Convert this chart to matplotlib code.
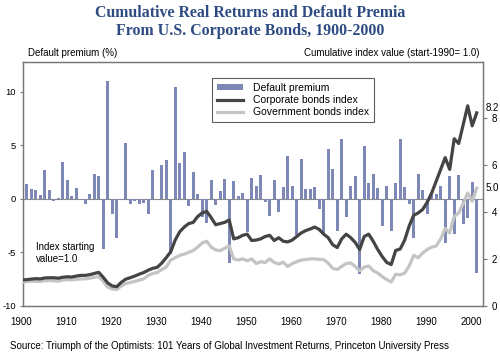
import matplotlib
matplotlib.use("Agg")
import matplotlib.pyplot as plt
from matplotlib.transforms import ScaledTranslation
from matplotlib.patches import Patch
from matplotlib.lines import Line2D

plt.rcParams["font.family"] = ["Liberation Sans", "DejaVu Sans"]

BAR_C = "#7d88b6"
CORP_C = "#444444"
GOV_C = "#c4c4c4"
TITLE_C = "#2d4b82"
FRAME_C = "#777777"

# default premium (%) by year, 1900-2000
years = list(range(1900, 2001))
premium = [
    1.4, 0.9, 0.8, 0.35, 2.7, 0.85, -0.2, 0.1, 3.5, 1.8,
    0.3, 1.05, 0.0, -0.45, 0.5, 2.3, 2.15, -4.7, 11.0, -1.4,
    -3.6, -0.1, 5.2, -0.45, -0.15, -0.5, -0.4, -1.4, 2.7, 0.0,
    3.15, 3.6, -5.1, 10.5, 3.4, 4.4, -0.7, 2.5, 0.5, -1.7,
    -2.2, 1.8, -0.6, 0.7, 1.9, -6.0, 1.7, 0.3, 0.6, -3.1,
    2.0, 1.25, 2.25, -0.25, -1.55, 1.8, -1.2, 1.15, 4.05, 1.2,
    -3.4, 3.75, 0.95, 0.9, 1.15, -0.9, -3.2, 4.65, 2.8, -3.0,
    5.6, -1.7, 1.25, 2.15, -7.05, 4.95, 1.5, 2.35, 1.05, -2.5,
    1.2, -3.0, 1.45, 5.6, 1.1, -0.45, -3.6, 2.35, 0.85, -1.4,
    0.5, 0.45, 1.2, -4.1, 2.1, -3.3, 2.25, -2.35, -1.8, 1.55,
    -6.9,
]

# cumulative real index values, start-1900 (end 1899) = 1.0
index_years = list(range(1899, 2001))
corporate = [
    1.1,
    1.12, 1.14, 1.16, 1.15, 1.19, 1.2, 1.2, 1.18, 1.22, 1.24,
    1.23, 1.27, 1.3, 1.3, 1.33, 1.38, 1.43, 1.22, 0.98, 0.85,
    0.82, 1.0, 1.14, 1.2, 1.27, 1.35, 1.42, 1.52, 1.6, 1.64,
    1.82, 2.05, 2.3, 2.8, 3.15, 3.35, 3.5, 3.55, 3.8, 3.95,
    4.02, 3.75, 3.45, 3.5, 3.55, 3.65, 2.85, 2.9, 3.0, 3.05,
    2.78, 2.8, 2.85, 2.95, 3.0, 2.78, 2.9, 2.75, 2.72, 2.8,
    2.95, 3.1, 3.2, 3.27, 3.35, 3.25, 3.05, 2.9, 2.6, 2.48,
    2.85, 3.05, 2.9, 2.7, 2.4, 2.95, 3.05, 2.75, 2.4, 2.1,
    1.85, 1.76, 2.36, 2.42, 2.8, 3.4, 3.85, 3.95, 4.1, 4.4,
    4.8, 5.3, 5.8, 6.3, 5.8, 7.1, 6.9, 7.7, 8.5, 7.65,
    8.2,
]
government = [
    1.02,
    1.03, 1.05, 1.05, 1.04, 1.07, 1.08, 1.07, 1.05, 1.1, 1.12,
    1.11, 1.13, 1.15, 1.15, 1.18, 1.22, 1.25, 1.05, 0.8, 0.72,
    0.7, 0.85, 0.95, 1.0, 1.04, 1.1, 1.15, 1.3, 1.38, 1.42,
    1.55, 1.65, 1.95, 2.05, 2.15, 2.2, 2.28, 2.35, 2.5, 2.68,
    2.75, 2.5, 2.38, 2.35, 2.45, 2.55, 2.0, 1.95, 2.0, 1.92,
    2.0, 1.8, 1.88, 1.85, 2.0, 1.85, 1.78, 1.86, 1.68, 1.8,
    1.88, 1.95, 1.97, 2.0, 2.0, 1.98, 1.97, 1.82, 1.6, 1.55,
    1.68, 1.8, 1.83, 1.68, 1.5, 1.65, 1.7, 1.5, 1.4, 1.25,
    1.12, 1.02, 1.35, 1.32, 1.4, 1.7, 2.15, 2.05, 2.25, 2.4,
    2.5, 2.55, 2.85, 3.3, 3.1, 3.8, 3.95, 4.35, 4.8, 4.45,
    5.0,
]

x_ticks = list(range(1900, 2001, 10))
left_ticks = [-10, -5, 0, 5, 10]
right_ticks = [0, 2, 4, 6, 8]

fig = plt.figure(figsize=(5.0, 3.54), dpi=100)
ax = fig.add_axes([0.046, 0.1356, 0.92, 0.6893])
ax2 = ax.twinx()

ax.bar(years, premium, width=0.6, color=BAR_C, zorder=2)
ax.axhline(0, color="#8a8a8a", lw=0.8, zorder=1)
ax.set_xlim(1899.18, 2001.4)
ax.set_ylim(-10, 12.8)

ax2.plot(index_years, government, color=GOV_C, lw=2.3, solid_joinstyle="round", zorder=3)
ax2.plot(index_years, corporate, color=CORP_C, lw=2.3, solid_joinstyle="round", zorder=4)
ax2.set_ylim(0, 10.36)

for a in (ax, ax2):
    for s in a.spines.values():
        s.set_color(FRAME_C)
        s.set_linewidth(0.9)

ax.set_xticks(x_ticks)
ax.set_xticklabels([str(t) for t in x_ticks], fontsize=7)
ax.tick_params(axis="x", length=0, pad=8)
for lab in ax.get_xticklabels():
    lab.set_transform(lab.get_transform() + ScaledTranslation(-0.055, 0, fig.dpi_scale_trans))
ax.set_yticks(left_ticks)
ax.set_yticklabels([str(t) for t in left_ticks], fontsize=6.8)
ax.tick_params(axis="y", length=2.5, width=0.8, color=FRAME_C, pad=2.5)
ax2.set_yticks(right_ticks)
ax2.set_yticklabels([str(t) for t in right_ticks], fontsize=7)
ax2.tick_params(axis="y", length=3, width=0.8, color=FRAME_C, pad=3)

# end values of the two indices
ax2.text(1.005, corporate[-1], "8.2", transform=ax2.get_yaxis_transform(),
         fontsize=7, ha="left", va="bottom")
ax2.text(1.005, government[-1], "5.0", transform=ax2.get_yaxis_transform(),
         fontsize=7, ha="left", va="center")

ax.text(0.028, 0.262, "Index starting\nvalue=1.0", transform=ax.transAxes,
        fontsize=7, ha="left", va="top", linespacing=1.2)

handles = [Patch(facecolor=BAR_C, edgecolor="none"),
           Line2D([], [], color=CORP_C, lw=2.3),
           Line2D([], [], color=GOV_C, lw=2.3)]
leg = ax2.legend(handles, ["Default premium", "Corporate bonds index", "Government bonds index"],
                 loc="upper left", bbox_to_anchor=(0.411, 0.934), borderaxespad=0,
                 fontsize=7.5, frameon=True, fancybox=False, handlelength=2.5,
                 handleheight=0.6, labelspacing=0.22, borderpad=0.45, handletextpad=1.0)
leg.get_frame().set_edgecolor("#333333")
leg.get_frame().set_linewidth(0.8)

fig.text(0.5, 0.963, "Cumulative Real Returns and Default Premia",
         family=["Liberation Serif", "DejaVu Serif"], fontweight="bold",
         fontsize=11.4, color=TITLE_C, ha="center", va="center")
fig.text(0.5, 0.912, "From U.S. Corporate Bonds, 1900-2000",
         family=["Liberation Serif", "DejaVu Serif"], fontweight="bold",
         fontsize=11.4, color=TITLE_C, ha="center", va="center")

fig.text(0.056, 0.85, "Default premium (%)", fontsize=7, ha="left", va="center")
fig.text(0.96, 0.85, "Cumulative index value (start-1990= 1.0)", fontsize=7,
         ha="right", va="center")
fig.text(0.02, 0.022, "Source: Triumph of the Optimists: 101 Years of Global Investment "
         "Returns, Princeton University Press", fontsize=7, ha="left", va="center")

fig.savefig("out.png", dpi=100)
